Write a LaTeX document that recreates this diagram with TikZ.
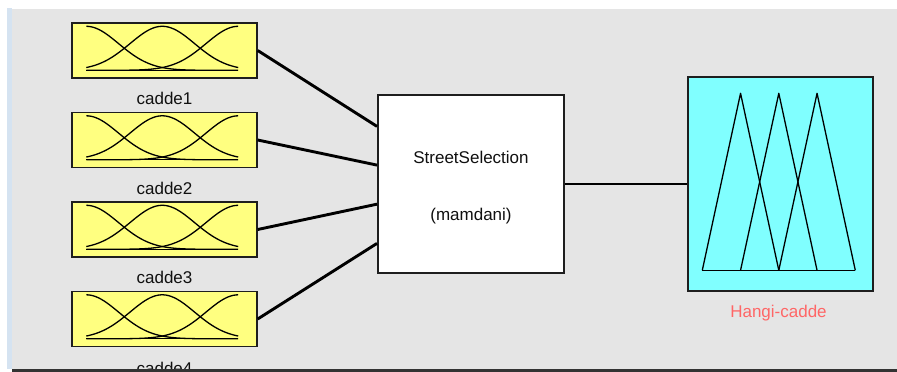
\documentclass[tikz,border=0pt]{standalone}
\usepackage{fontspec}
\setmainfont{Liberation Sans}
\usetikzlibrary{calc}
\definecolor{bgpanel}{HTML}{E5E5E5}
\definecolor{strip}{HTML}{D5E3F1}
\definecolor{edge}{HTML}{1E1E1E}
\definecolor{yel}{HTML}{FFFF80}
\definecolor{cyn}{HTML}{80FFFF}
\definecolor{txt}{HTML}{101010}
\definecolor{outtxt}{HTML}{FF6666}
\definecolor{darkbar}{HTML}{333333}
\newcommand\mfcurves{%
  \draw[mfline] plot[domain=0:1,samples=60] ({15+152*\x},{48-44*exp(-0.5*((\x)/0.2125)^2)});
  \draw[mfline] plot[domain=0:1,samples=60] ({15+152*\x},{48-44*exp(-0.5*((\x-0.5)/0.2125)^2)});
  \draw[mfline] plot[domain=0:1,samples=60] ({15+152*\x},{48-44*exp(-0.5*((\x-1)/0.2125)^2)});
  \draw[mfline] (15,48) -- (167,48);
}
\begin{document}
\begin{tikzpicture}[x=1pt,y=-1pt,
  mfbox/.style={draw=edge, line width=1.4pt, fill=yel, minimum width=185pt, minimum height=55pt, inner sep=0pt},
  fisbox/.style={draw=edge, line width=2pt, fill=white, minimum width=186pt, minimum height=178pt, inner sep=0pt, align=center, text=txt, font=\fontsize{17}{57}\selectfont},
  outbox/.style={draw=edge, line width=1.4pt, fill=cyn, minimum width=185pt, minimum height=214pt, inner sep=0pt},
  lbl/.style={font=\fontsize{17}{20}\selectfont, text=txt, inner sep=0pt, anchor=base},
  mfline/.style={draw=black, line width=1.3pt, line join=round},
  conn/.style={draw=black, line width=2.9pt}]
\useasboundingbox (0,0) rectangle (897,372);
\fill[white] (0,0) rectangle (897,372);
\fill[bgpanel] (12,9) rectangle (897,369);
\fill[strip] (7,8) rectangle (12,369);

% input boxes
\node[mfbox] (c1) at (164.5,50.5) {};
\node[mfbox] (c2) at (164.5,140) {};
\node[mfbox] (c3) at (164.5,229.5) {};
\node[mfbox] (c4) at (164.5,319) {};
\foreach \n in {c1,c2,c3,c4}{
  \begin{scope}[shift={(\n.north west)}]
    \mfcurves
  \end{scope}
}
\node[lbl] (l1) at ($(c1.south)+(0,26)$) {cadde1};
\node[lbl] (l2) at ($(c2.south)+(0,26)$) {cadde2};
\node[lbl] (l3) at ($(c3.south)+(0,26)$) {cadde3};
\node[lbl] (l4) at ($(c4.south)+(0,27)$) {cadde4};

% FIS box
\node[fisbox] (ss) at (471,184) {\rule{0pt}{20pt}StreetSelection\\(mamdani)};

% output box
\node[outbox] (out) at (780.5,184) {};
\begin{scope}[shift={(out.north west)}]
  \draw[mfline] (15,194) -- (53.25,17) -- (91.5,194);
  \draw[mfline] (53.25,194) -- (91.5,17) -- (129.75,194);
  \draw[mfline] (91.5,194) -- (129.75,17) -- (168,194);
  \draw[mfline] (15,194) -- (168,194);
\end{scope}
\node[lbl, text=outtxt, xshift=-2pt] (lo) at ($(out.south)+(0,26)$) {Hangi-cadde};

% connectors
\coordinate (i1) at ($(ss.north west)!0.18!(ss.south west)$);
\coordinate (i2) at ($(ss.north west)!0.395!(ss.south west)$);
\coordinate (i3) at ($(ss.north west)!0.612!(ss.south west)$);
\coordinate (i4) at ($(ss.north west)!0.83!(ss.south west)$);
\draw[conn] (c1.east) -- (i1);
\draw[conn] (c2.east) -- (i2);
\draw[conn] (c3.east) -- (i3);
\draw[conn] (c4.east) -- (i4);
\draw[conn] (ss.east) -- (out.west);

% bottom bar
\fill[darkbar] (12,369) rectangle (897,372);
\end{tikzpicture}
\end{document}
